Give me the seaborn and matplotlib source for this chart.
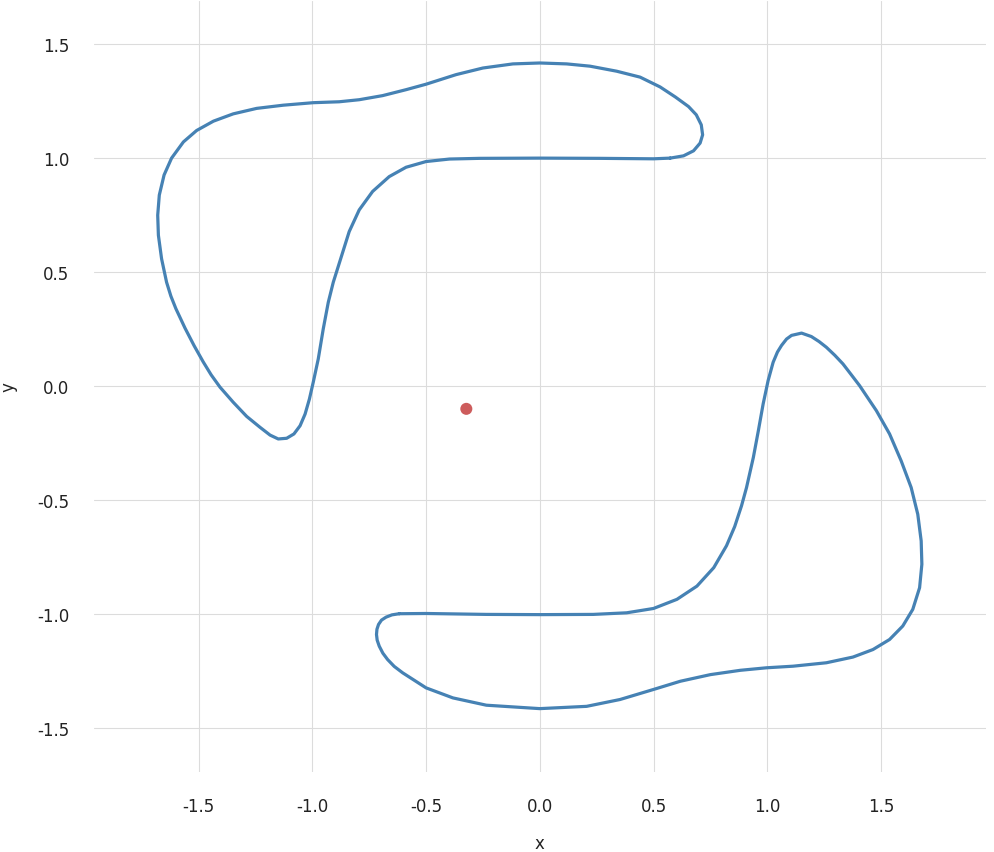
import matplotlib
matplotlib.use("Agg")
import matplotlib.pyplot as plt
import seaborn as sns
import pandas as pd

# upper-left loop (data units)
loop_a_x = [0.573, 0.5, 0.265, 0.0, -0.265, -0.397, -0.5, -0.588, -0.662, -0.735, -0.794,
            -0.838, -0.878, -0.908, -0.930, -0.952, -0.974, -0.996, -1.013, -1.032, -1.054,
            -1.081, -1.113, -1.150, -1.186, -1.230, -1.289, -1.348, -1.406, -1.445, -1.480,
            -1.520, -1.560, -1.600, -1.622, -1.641, -1.663, -1.677, -1.680, -1.673, -1.652,
            -1.619, -1.567, -1.509, -1.435, -1.348, -1.245, -1.128, -0.996, -0.882, -0.794,
            -0.691, -0.588, -0.5, -0.368, -0.250, -0.118, 0.0, 0.118, 0.221, 0.338,
            0.441, 0.529, 0.596, 0.654, 0.688, 0.710, 0.716, 0.705, 0.676, 0.632, 0.573]
loop_a_y = [1.000, 0.997, 0.999, 1.000, 0.999, 0.996, 0.985, 0.960, 0.919, 0.854, 0.773,
            0.678, 0.551, 0.456, 0.368, 0.252, 0.120, 0.018, -0.056, -0.122, -0.173,
            -0.209, -0.228, -0.231, -0.214, -0.180, -0.132, -0.070, -0.004, 0.050, 0.107,
            0.178, 0.255, 0.340, 0.395, 0.456, 0.559, 0.662, 0.750, 0.838, 0.926,
            1.000, 1.071, 1.121, 1.162, 1.194, 1.218, 1.232, 1.243, 1.247, 1.256,
            1.274, 1.300, 1.324, 1.366, 1.395, 1.413, 1.417, 1.413, 1.403, 1.381,
            1.355, 1.312, 1.268, 1.226, 1.190, 1.146, 1.102, 1.066, 1.032, 1.010, 1.000]

# lower-right loop
loop_b_x = [-0.618, -0.5, -0.235, 0.0, 0.235, 0.382, 0.5, 0.603, 0.691, 0.765, 0.821,
            0.857, 0.887, 0.909, 0.939, 0.961, 0.982, 1.004, 1.026, 1.045, 1.063,
            1.085, 1.107, 1.151, 1.194, 1.228, 1.260, 1.297, 1.333, 1.370, 1.406,
            1.480, 1.538, 1.589, 1.633, 1.662, 1.677, 1.680, 1.670, 1.640, 1.596,
            1.538, 1.465, 1.377, 1.260, 1.114, 0.997, 0.882, 0.750, 0.618, 0.5,
            0.353, 0.206, 0.0, -0.235, -0.382, -0.5, -0.603, -0.640, -0.669, -0.690,
            -0.706, -0.715, -0.718, -0.716, -0.709, -0.696, -0.676, -0.650, -0.618]
loop_b_y = [-0.997, -0.996, -1.000, -1.001, -1.000, -0.993, -0.974, -0.934, -0.876, -0.795, -0.699,
            -0.615, -0.524, -0.444, -0.312, -0.195, -0.078, 0.025, 0.105, 0.150, 0.179,
            0.207, 0.223, 0.233, 0.218, 0.196, 0.171, 0.136, 0.098, 0.050, 0.003,
            -0.107, -0.209, -0.327, -0.444, -0.561, -0.678, -0.780, -0.883, -0.978, -1.051,
            -1.110, -1.154, -1.187, -1.212, -1.227, -1.234, -1.245, -1.264, -1.293, -1.329,
            -1.373, -1.403, -1.413, -1.398, -1.366, -1.322, -1.256, -1.228, -1.198, -1.170,
            -1.139, -1.113, -1.088, -1.065, -1.044, -1.025, -1.012, -1.002, -0.997]

point_x = [-0.323]
point_y = [-0.099]

df = pd.concat([
    pd.DataFrame({"x": loop_a_x, "y": loop_a_y, "loop": "a"}),
    pd.DataFrame({"x": loop_b_x, "y": loop_b_y, "loop": "b"}),
])

sns.set_style("whitegrid", {"grid.color": "#dcdcdc"})
plt.rcParams["font.family"] = ["DejaVu Sans"]
plt.rcParams["axes.unicode_minus"] = False

fig = plt.figure(figsize=(9.95, 8.53), dpi=100)
ax = fig.add_axes([0.0945, 0.094, 0.896, 0.904])

sns.lineplot(data=df, x="x", y="y", units="loop", estimator=None, sort=False,
             color="#4682b4", linewidth=2.3, solid_joinstyle="round", ax=ax)
sns.scatterplot(x=point_x, y=point_y, color="#cd5c5c", s=75, edgecolor="none", ax=ax)

ax.set_xlim(-1.96, 1.96)
ax.set_ylim(-1.69, 1.69)
ax.set_xticks([-1.5, -1.0, -0.5, 0.0, 0.5, 1.0, 1.5])
ax.set_yticks([-1.5, -1.0, -0.5, 0.0, 0.5, 1.0, 1.5])
ax.grid(True, linewidth=0.8)
ax.tick_params(length=0, labelsize=12, pad=18, labelcolor="#222222")
ax.set_xlabel("x", fontsize=12, labelpad=14, color="#222222")
ax.set_ylabel("y", fontsize=12, labelpad=14, color="#222222")
sns.despine(left=True, bottom=True)

fig.savefig("out.png", dpi=100)
